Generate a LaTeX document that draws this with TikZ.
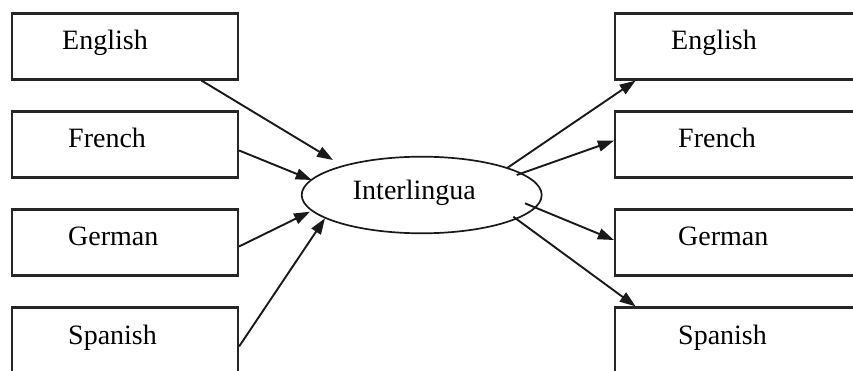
\documentclass[tikz,border=0pt]{standalone}
\usepackage{fontspec}
\setmainfont{Liberation Serif}
\usetikzlibrary{arrows.meta,shapes.geometric,calc}
\begin{document}
\begin{tikzpicture}[x=1pt,y=-1pt,
  box/.style={draw=black!85,line width=2.2pt,rectangle,minimum height=66pt,inner sep=0pt},
  lbox/.style={box,minimum width=226pt},
  rbox/.style={box,minimum width=250pt},
  lbl/.style={anchor=base west,inner sep=0pt,font=\fontsize{28}{30}\selectfont},
  arr/.style={draw=black!90,line width=1.9pt,-{Triangle[length=16pt,width=11pt]}}]
\useasboundingbox (0,0) rectangle (853,371);
\clip (0,0) rectangle (853,371);
% left boxes
\node[lbox] (l1) at (125,46.5) {};
\node[lbox] (l2) at (125,144.5) {};
\node[lbox] (l3) at (125,242.5) {};
\node[lbox] (l4) at (125,340.5) {};
\node[lbl] (tl1) at (62,50) {English};
\node[lbl] (tl2) at (68,147.7) {French};
\node[lbl] (tl3) at (68,245.7) {German};
\node[lbl] (tl4) at (68,344) {Spanish};
% right boxes
\node[rbox] (r1) at (740,46.5) {};
\node[rbox] (r2) at (740,144.5) {};
\node[rbox] (r3) at (740,242.5) {};
\node[rbox] (r4) at (740,340.5) {};
\node[lbl] (tr1) at (671,50) {English};
\node[lbl] (tr2) at (678,147.7) {French};
\node[lbl] (tr3) at (678,245.7) {German};
\node[lbl] (tr4) at (678,344) {Spanish};
% interlingua
\node[ellipse,draw=black!90,line width=1.7pt,minimum width=240pt,minimum height=76.6pt,inner sep=0pt] (il) at (421.7,195) {};
\node[lbl] (til) at (352.7,200) {Interlingua};
% incoming arrows
\draw[arr] (l1.-24) -- ($(il.center)+(-88.7,-35)$);
\draw[arr] (l2.-3) -- ($(il.center)+(-110,-15)$);
\draw[arr] (l3.-2) -- ($(il.center)+(-111.7,16.7)$);
\draw[arr] (l4.-3) -- ($(il.center)+(-96.7,23.3)$);
% outgoing arrows
\draw[arr] ($(il.center)+(85,-26.7)$) -- ($(r1.south west)+(21.7,0)$);
\draw[arr] ($(il.center)+(95,-20)$) -- ($(r2.west)+(0,-3.8)$);
\draw[arr] ($(il.center)+(103.3,8.3)$) -- ($(r3.west)+(0,-2.5)$);
\draw[arr] ($(il.center)+(91.6,21.7)$) -- ($(r4.north west)+(21.7,0)$);
\end{tikzpicture}
\end{document}
